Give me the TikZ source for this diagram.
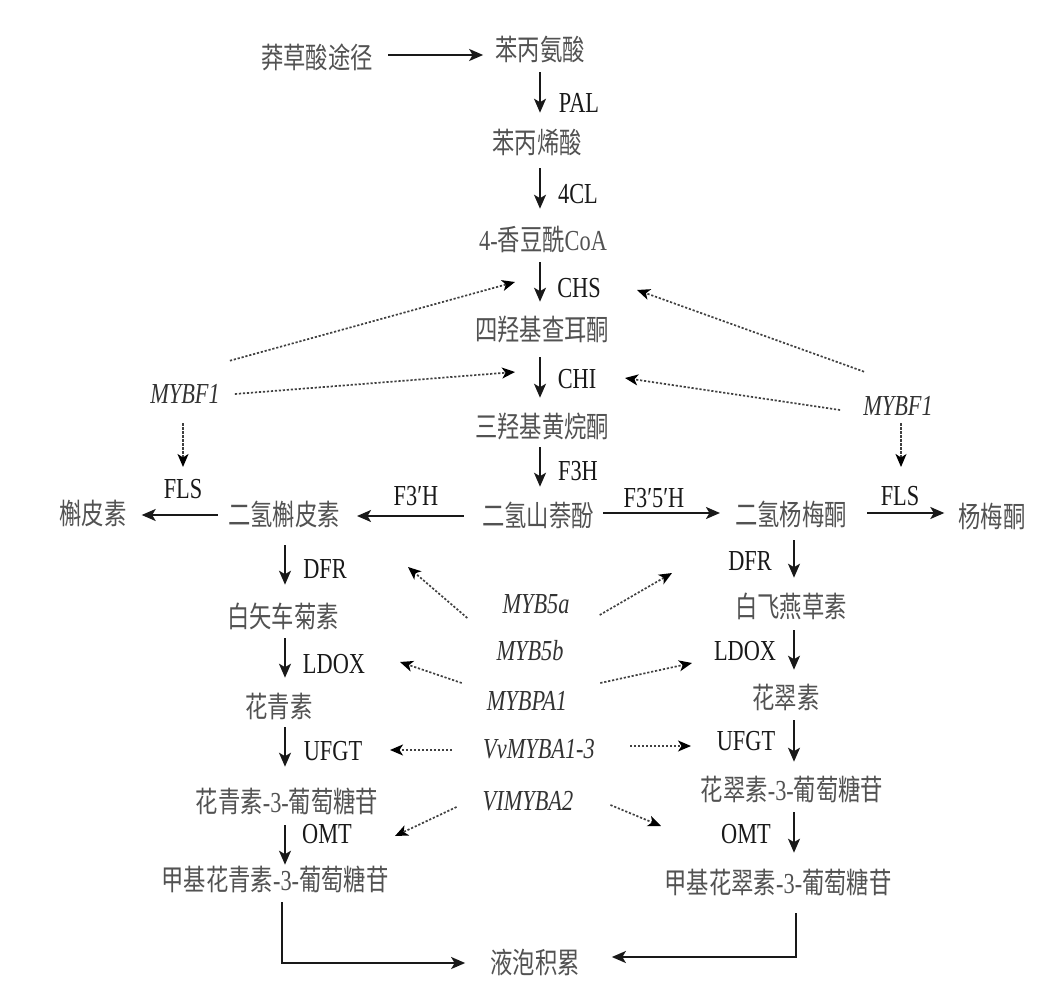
\documentclass[tikz,border=0pt]{standalone}
\usepackage{fontspec}
\setmainfont{Liberation Serif}[FakeStretch=0.77]
\newfontfamily\cjk{Noto Sans CJK SC}[FakeStretch=0.77]
\usetikzlibrary{arrows.meta}
\newcommand\latn[1]{{\rmfamily #1}}
\begin{document}
\begin{tikzpicture}[x=1pt,y=-1pt,
  base/.style={inner sep=0pt, text height=23.5pt, text depth=2.7pt, anchor=center},
  zh/.style={base, font=\cjk\fontsize{29}{32}\selectfont, text=black!68},
  enz/.style={base, font=\rmfamily\fontsize{29}{32}\selectfont, text=black!90},
  reg/.style={base, font=\rmfamily\itshape\fontsize{29}{32}\selectfont, text=black!80},
  arr/.style={line width=1.9pt, black!90, -{Stealth[length=14pt,width=12pt,inset=3.5pt]}},
  dot/.style={line width=1.7pt, black!75, dash pattern=on 2.2pt off 1.8pt, -{Stealth[length=13pt,width=11pt,inset=3.5pt,color=black]}},
]
\fill[white] (0,0) rectangle (1044,982);
\useasboundingbox (0,0) rectangle (1044,982);

% column / row helpers
\coordinate (colM) at (540,0);
\coordinate (colL) at (285,0);
\coordinate (colR) at (794,0);
\coordinate (colLL) at (282,0);
\coordinate (colRR) at (796,0);
\coordinate (rowTop) at (0,55);

% metabolites
\node[zh] (shik) at (317,58) {莽草酸途径};
\node[zh] (phe)  at (540,50) {苯丙氨酸};
\node[zh] (cin)  at (537,143) {苯丙烯酸};
\node[zh] (cou)  at (543,240) {\latn{4-}香豆酰\latn{CoA}};
\node[zh] (chal) at (542,330) {四羟基查耳酮};
\node[zh] (nar)  at (542,427) {三羟基黄烷酮};
\node[zh] (dhk)  at (538,516) {二氢山萘酚};
\node[zh] (dhq)  at (284,515) {二氢槲皮素};
\node[zh] (que)  at (93,514)  {槲皮素};
\node[zh] (dhm)  at (791,515) {二氢杨梅酮};
\node[zh] (myr)  at (992,517) {杨梅酮};
\node[zh] (leuc) at (283,617) {白矢车菊素};
\node[zh] (cya)  at (279,707) {花青素};
\node[zh] (cyag) at (287,802) {花青素\latn{-3-}葡萄糖苷};
\node[zh] (pcyg) at (275,880) {甲基花青素\latn{-3-}葡萄糖苷};
\node[zh] (leud) at (791,607) {白飞燕草素};
\node[zh] (del)  at (786,698) {花翠素};
\node[zh] (delg) at (792,790) {花翠素\latn{-3-}葡萄糖苷};
\node[zh] (mdg)  at (778,883) {甲基花翠素\latn{-3-}葡萄糖苷};
\node[zh] (vac)  at (535,963) {液泡积累};

% enzymes
\node[enz] (pal)  at (579,102) {PAL};
\node[enz] (fcl)  at (578,193) {4CL};
\node[enz] (chs)  at (579,287) {CHS};
\node[enz] (chi)  at (577,378) {CHI};
\node[enz] (fth)  at (578,470) {F3H};
\node[enz] (fpr)  at (416,495) {F3′H};
\node[enz] (flsL) at (183,488) {FLS};
\node[enz] (fpp)  at (654,497) {F3′5′H};
\node[enz] (flsR) at (900,495) {FLS};
\node[enz] (dfrL) at (325,568) {DFR};
\node[enz] (ldoL) at (334,663) {LDOX};
\node[enz] (ufgL) at (333,750) {UFGT};
\node[enz] (omtL) at (327,833) {OMT};
\node[enz] (dfrR) at (750,560) {DFR};
\node[enz] (ldoR) at (745,650) {LDOX};
\node[enz] (ufgR) at (746,740) {UFGT};
\node[enz] (omtR) at (746,833) {OMT};

% regulators
\node[reg] (mybfL) at (185,393) {MYBF1};
\node[reg] (mybfR) at (898,405) {MYBF1};
\node[reg] (m5a) at (536,603) {MYB5a};
\node[reg] (m5b) at (530,650) {MYB5b};
\node[reg] (mpa) at (527,700) {MYBPA1};
\node[reg] (vv)  at (539,748) {VvMYBA1-3};
\node[reg] (vl)  at (528,800) {VIMYBA2};

% tips of regulatory arrows
\coordinate (tCHSl) at (515,282);
\coordinate (tCHIl) at (515,372);
\coordinate (tCHSr) at (637,290);
\coordinate (tCHIr) at (625,378);
\coordinate (tFLSl) at (183,467);
\coordinate (tFLSr) at (901,467);
\coordinate (tDFRl) at (408,567);
\coordinate (tDFRr) at (672,573);
\coordinate (tLDOl) at (400,662);
\coordinate (tLDOr) at (692,663);
\coordinate (tUFGl) at (390,750);
\coordinate (tUFGr) at (691,746);
\coordinate (tOMTl) at (395,836);
\coordinate (tOMTr) at (661,826);

% main pathway
\draw[arr, shorten <=15pt, shorten >=12pt] (shik.east |- rowTop) -- (phe.west |- rowTop);
\draw[arr, shorten <=9pt, shorten >=17pt] (phe.south -| colM) -- (cin.north -| colM);
\draw[arr, shorten <=12pt, shorten >=18pt] (cin.south -| colM) -- (cou.north -| colM);
\draw[arr, shorten <=9pt, shorten >=15pt] (cou.south -| colM) -- (chal.north -| colM);
\draw[arr, shorten <=14pt, shorten >=16pt] (chal.south -| colM) -- (nar.north -| colM);
\draw[arr, shorten <=7pt, shorten >=16pt] (nar.south -| colM) -- (dhk.north -| colM);

% branches
\draw[arr, shorten <=18pt, shorten >=17pt] (dhk.west) -- (dhk.west -| dhq.east);
\draw[arr, shorten <=10pt, shorten >=15pt] (dhq.west) -- (dhq.west -| que.east);
\draw[arr, shorten <=9pt, shorten >=15pt] ([yshift=3pt]dhk.east) -- ([yshift=3pt]dhk.east -| dhm.west);
\draw[arr, shorten <=20pt, shorten >=14pt] ([yshift=2pt]dhm.east) -- ([yshift=2pt]dhm.east -| myr.west);

% left column
\draw[arr, shorten <=17pt, shorten >=19pt] (dhq.south -| colL) -- (leuc.north -| colL);
\draw[arr, shorten <=8pt, shorten >=16pt] (leuc.south -| colL) -- (cya.north -| colL);
\draw[arr, shorten <=7pt, shorten >=22pt] (cya.south -| colL) -- (cyag.north -| colL);
\draw[arr, shorten <=10pt, shorten >=2pt] (cyag.south -| colL) -- (pcyg.north -| colL);

% right column
\draw[arr, shorten <=12pt, shorten >=16pt] (dhm.south -| colR) -- (leud.north -| colR);
\draw[arr, shorten <=10pt, shorten >=15pt] (leud.south -| colR) -- (del.north -| colR);
\draw[arr, shorten <=9pt, shorten >=15pt] (del.south -| colR) -- (delg.north -| colR);
\draw[arr, shorten <=9pt, shorten >=17pt] (delg.south -| colR) -- (mdg.north -| colR);

% to vacuole
\draw[arr, shorten <=9pt, shorten >=25pt] (pcyg.south -| colLL) |- (vac.west);
\draw[arr, shorten <=17pt, shorten >=32pt] (mdg.south -| colRR) |- ([yshift=6pt]vac.east);

% MYBF1 regulation
\draw[dot] ([shift={(10,-19)}]mybfL.north east) -- (tCHSl);
\draw[dot] ([shift={(15,1)}]mybfL.east) -- (tCHIl);
\draw[dot] ([shift={(-2,17)}]mybfL.south) -- (tFLSl);
\draw[dot] ([shift={(1,-20)}]mybfR.north west) -- (tCHSr);
\draw[dot] ([shift={(-23,5)}]mybfR.west) -- (tCHIr);
\draw[dot] ([shift={(3,5)}]mybfR.south) -- (tFLSr);

% MYB regulation of late genes
\draw[dot] ([shift={(-35,15)}]m5a.west) -- (tDFRl);
\draw[dot] ([shift={(30,12)}]m5a.east) -- (tDFRr);
\draw[dot] ([shift={(-25,-17)}]mpa.west) -- (tLDOl);
\draw[dot] ([shift={(33,-17)}]mpa.east) -- (tLDOr);
\draw[dot] ([shift={(-31,2)}]vv.west) -- (tUFGl);
\draw[dot] ([shift={(35,-2)}]vv.east) -- (tUFGr);
\draw[dot] ([shift={(-26,7)}]vl.west) -- (tOMTl);
\draw[dot] ([shift={(37,5)}]vl.east) -- (tOMTr);
\end{tikzpicture}
\end{document}
